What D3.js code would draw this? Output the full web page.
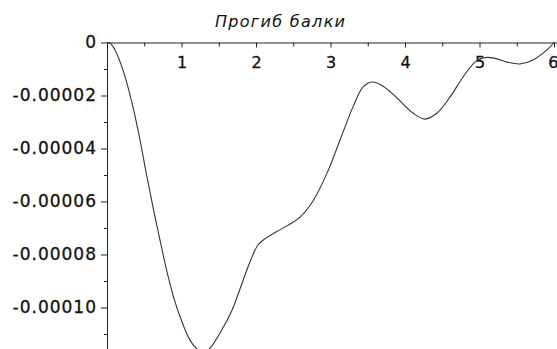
<!DOCTYPE html>
<html>
<head>
<meta charset="utf-8">
<script src="https://cdn.jsdelivr.net/npm/d3@7"></script>
<style>
  html, body { margin: 0; padding: 0; background: #fff; }
  svg { display: block; }
</style>
</head>
<body>
<svg id="chart"></svg>
<script>
// deflection of the beam
const xs = [0, 0.04, 0.107, 0.215, 0.336, 0.443, 0.537, 0.631, 0.725, 0.819, 0.913, 1.007,
  1.114, 1.195, 1.289, 1.383, 1.517, 1.678, 1.785, 1.919, 2.027, 2.134, 2.268, 2.416,
  2.591, 2.765, 2.953, 3.128, 3.302, 3.436, 3.557, 3.69, 3.82, 3.95, 4.107, 4.268, 4.43,
  4.604, 4.779, 4.94, 5.047, 5.181, 5.369, 5.544, 5.718, 5.906, 6.0];
const ys = [0, -0.0000002, -0.0000028, -0.0000104, -0.0000228, -0.0000368, -0.0000508,
  -0.0000640, -0.0000764, -0.0000881, -0.0000979, -0.0001055, -0.0001123, -0.0001153,
  -0.0001168, -0.0001153, -0.0001096, -0.0001010, -0.0000930, -0.0000828, -0.0000764,
  -0.0000738, -0.0000715, -0.0000692, -0.0000659, -0.0000598, -0.0000493, -0.0000368,
  -0.0000243, -0.0000168, -0.0000149, -0.0000162, -0.0000190, -0.0000225, -0.0000266,
  -0.0000289, -0.0000266, -0.0000206, -0.0000130, -0.0000074, -0.0000058, -0.0000058,
  -0.0000074, -0.0000081, -0.0000066, -0.0000028, 0];

const xMajor = [1, 2, 3, 4, 5, 6];
const xMinor = [0.5, 1.5, 2.5, 3.5, 4.5, 5.5];
const yMajor = [0, -0.00002, -0.00004, -0.00006, -0.00008, -0.00010];
const yMinor = [-0.00001, -0.00003, -0.00005, -0.00007, -0.00009, -0.00011];
const yLabels = ['0', '-0.00002', '-0.00004', '-0.00006', '-0.00008', '-0.00010'];
const title = 'Прогиб балки';

const W = 557, H = 349;
const plotLeft = 107, plotTop = 42.5, plotRight = 554;
const yMin = -0.00011566;

const svg = d3.select('#chart').attr('width', W).attr('height', H);

const x = d3.scaleLinear().domain([0, 6]).range([plotLeft, plotRight]);
const y = d3.scaleLinear().domain([yMin, 0]).range([H, plotTop]);

// x axis: minor ticks first, then the labelled ones
svg.append('g')
  .attr('transform', `translate(0,${plotTop})`)
  .call(d3.axisBottom(x).tickValues(xMinor).tickSize(4).tickFormat(''))
  .call(g => g.select('.domain').remove());

const xAxis = svg.append('g')
  .attr('transform', `translate(0,${plotTop})`)
  .call(d3.axisBottom(x).tickValues(xMajor).tickSize(5).tickSizeOuter(0).tickPadding(9)
    .tickFormat(d3.format('d')));
xAxis.select('.domain').attr('d', `M${plotLeft},0.5H${W}`);

// y axis
svg.append('g')
  .attr('transform', `translate(${plotLeft},0)`)
  .call(d3.axisLeft(y).tickValues(yMinor).tickSize(3).tickFormat(''))
  .call(g => g.select('.domain').remove());

const yAxis = svg.append('g')
  .attr('transform', `translate(${plotLeft},0)`)
  .call(d3.axisLeft(y).tickValues(yMajor).tickSize(6).tickSizeOuter(0).tickPadding(4)
    .tickFormat((d, i) => yLabels[i]));

svg.selectAll('.tick line').attr('stroke', '#222');
svg.selectAll('.domain').attr('stroke', '#222');

xAxis.selectAll('text')
  .attr('font-family', 'DejaVu Sans, Verdana, sans-serif')
  .attr('font-size', 16)
  .attr('fill', '#111')
  .attr('stroke', '#111')
  .attr('stroke-width', 0.3);
// last label sits against the right edge
xAxis.selectAll('text').filter(d => d === 6).attr('text-anchor', 'end').attr('dx', 4);

yAxis.selectAll('text')
  .attr('font-family', 'DejaVu Sans, Verdana, sans-serif')
  .attr('font-size', 17)
  .attr('letter-spacing', 1)
  .attr('fill', '#111')
  .attr('stroke', '#111')
  .attr('stroke-width', 0.3);

// curve
const line = d3.line()
  .x((d, i) => x(xs[i]))
  .y(d => y(d))
  .curve(d3.curveCatmullRom);

svg.append('path')
  .datum(ys)
  .attr('d', line)
  .attr('fill', 'none')
  .attr('stroke', '#333')
  .attr('stroke-width', 1.1);

// title
svg.append('text')
  .attr('x', 215)
  .attr('y', 27)
  .attr('textLength', 130)
  .attr('lengthAdjust', 'spacing')
  .attr('font-family', 'DejaVu Sans, Verdana, sans-serif')
  .attr('font-style', 'italic')
  .attr('font-size', 16)
  .attr('fill', '#111')
  .text(title);
</script>
</body>
</html>
